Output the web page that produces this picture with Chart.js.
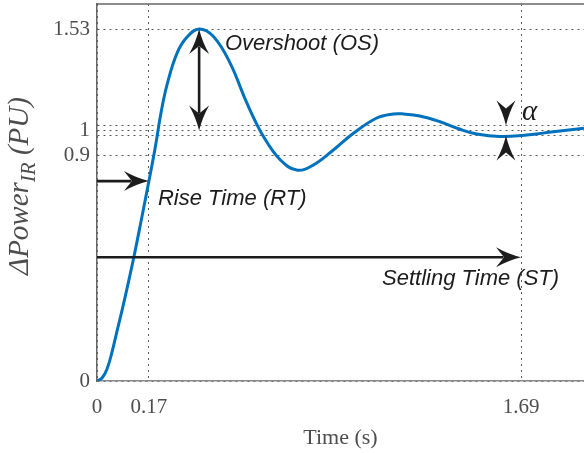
<!DOCTYPE html>
<html><head><meta charset="utf-8">
<script src="https://cdn.jsdelivr.net/npm/chart.js@4.4.0/dist/chart.umd.min.js"></script>
<style>html,body{margin:0;padding:0;background:#fff;overflow:hidden}#wrap{width:584px;height:453px}</style>
</head><body><div id="wrap"><canvas id="c" width="584" height="453"></canvas></div>
<script>
// ---- data ----
const timeS   = [0, 0.020, 0.040, 0.060, 0.080, 0.100, 0.120, 0.147, 0.175, 0.203, 0.231, 0.255, 0.279, 0.319, 0.359, 0.407, 0.465, 0.531, 0.598, 0.664, 0.731, 0.796, 0.862, 0.942, 1.022, 1.115, 1.181, 1.221, 1.287, 1.367, 1.447, 1.513, 1.606, 1.713, 1.819, 1.941];
const powerPU = [0, 0.012, 0.048, 0.116, 0.200, 0.283, 0.371, 0.495, 0.635, 0.778, 0.926, 1.070, 1.182, 1.309, 1.373, 1.405, 1.374, 1.268, 1.108, 0.975, 0.882, 0.842, 0.862, 0.922, 0.989, 1.050, 1.066, 1.066, 1.058, 1.035, 1.005, 0.986, 0.976, 0.982, 0.995, 1.009];
const xTickValues = [0, 0.207, 1.69];
const xTickLabels = ['0', '0.17', '1.69'];
const yTickValues = [0, 0.9, 1, 1.405];
const yTickLabels = ['0', '0.9', '1', '1.53'];
const bandValues  = [0.98, 1.02];
const riseTime = 0.207, settleTime = 1.69, peakTime = 0.407, peakValue = 1.405, alphaTime = 1.630;

// build y ticks (labelled + unlabelled band lines)
const yAll = yTickValues.map((v, i) => ({v, l: yTickLabels[i]}))
  .concat(bandValues.map(v => ({v, l: ''})))
  .sort((a, b) => a.v - b.v);

const serif = '"Liberation Serif", "Times New Roman", serif';
const sans = '"Liberation Sans", Arial, sans-serif';
const gridCol = '#5a5a5a';

function head(ctx, x, y, ang, L, W) {
  ctx.save(); ctx.translate(x, y); ctx.rotate(ang);
  ctx.beginPath();
  ctx.moveTo(0, 0);
  ctx.quadraticCurveTo(-L * 0.5, -W * 0.15, -L, -W / 2);
  ctx.lineTo(-L * 0.68, 0);
  ctx.lineTo(-L, W / 2);
  ctx.quadraticCurveTo(-L * 0.5, W * 0.15, 0, 0);
  ctx.closePath(); ctx.fill();
  ctx.restore();
}
function arrow(ctx, x1, y1, x2, y2, both) {
  const ang = Math.atan2(y2 - y1, x2 - x1);
  const L = 25, W = 20;
  ctx.beginPath();
  const sx = both ? x1 + Math.cos(ang) * L * 0.7 : x1, sy = both ? y1 + Math.sin(ang) * L * 0.7 : y1;
  ctx.moveTo(sx, sy);
  ctx.lineTo(x2 - Math.cos(ang) * L * 0.7, y2 - Math.sin(ang) * L * 0.7);
  ctx.stroke();
  head(ctx, x2, y2, ang, L, W);
  if (both) head(ctx, x1, y1, ang + Math.PI, L, W);
}

const annot = {
  id: 'annot',
  afterDatasetsDraw(chart) {
    const {ctx, chartArea: a, scales: {x, y}} = chart;
    ctx.save();
    // top frame line
    ctx.strokeStyle = '#666'; ctx.lineWidth = 1.5;
    ctx.beginPath(); ctx.moveTo(a.left, a.top); ctx.lineTo(a.right, a.top); ctx.stroke();

    ctx.strokeStyle = '#1c1c1c'; ctx.fillStyle = '#1c1c1c'; ctx.lineWidth = 2.6;
    // rise time arrow
    arrow(ctx, x.getPixelForValue(0), y.getPixelForValue(0.798), x.getPixelForValue(riseTime), y.getPixelForValue(0.798));
    // settling arrow
    arrow(ctx, x.getPixelForValue(0), y.getPixelForValue(0.494), x.getPixelForValue(settleTime), y.getPixelForValue(0.494));
    // overshoot double arrow
    arrow(ctx, x.getPixelForValue(peakTime), y.getPixelForValue(1.0), x.getPixelForValue(peakTime), y.getPixelForValue(peakValue), true);
    // alpha arrowheads
    const ax = x.getPixelForValue(alphaTime);
    head(ctx, ax, y.getPixelForValue(1.02), Math.PI / 2, 25, 19);
    head(ctx, ax, y.getPixelForValue(0.98), -Math.PI / 2, 25, 19);

    // texts
    ctx.font = 'italic 22px ' + sans; ctx.textBaseline = 'alphabetic'; ctx.textAlign = 'left';
    ctx.fillText('Overshoot (OS)', x.getPixelForValue(0.510), y.getPixelForValue(1.321));
    ctx.fillText('Rise Time (RT)', x.getPixelForValue(0.243), y.getPixelForValue(0.703));
    ctx.fillText('Settling Time (ST)', x.getPixelForValue(1.136), y.getPixelForValue(0.383));
    ctx.font = 'italic 29px ' + serif;
    ctx.fillText('α', x.getPixelForValue(1.694), y.getPixelForValue(1.042));

    // y axis title with subscript
    ctx.fillStyle = '#4d4d4d';
    ctx.translate(28, 186);
    ctx.rotate(-Math.PI / 2);
    const big = 'italic 29px ' + serif, small = 'italic 21px ' + serif;
    ctx.font = big; const w1 = ctx.measureText('ΔPower').width;
    ctx.font = small; const w2 = ctx.measureText('IR').width;
    ctx.font = big; const w3 = ctx.measureText(' (PU)').width;
    let px = -(w1 + w2 + w3) / 2;
    ctx.font = big; ctx.fillText('ΔPower', px, 0); px += w1;
    ctx.font = small; ctx.fillText('IR', px, 7); px += w2;
    ctx.font = big; ctx.fillText(' (PU)', px, 0);
    ctx.restore();
  }
};

new Chart(document.getElementById('c'), {
  type: 'line',
  data: {
    datasets: [{
      data: timeS.map((t, i) => ({x: t, y: powerPU[i]})),
      borderColor: '#0072BD', borderWidth: 3, pointRadius: 0,
      tension: 0.4, fill: false
    }]
  },
  options: {
    responsive: false, animation: false, devicePixelRatio: 1,
    layout: {padding: {top: 4, right: 0, left: 0, bottom: 0}},
    plugins: {legend: {display: false}, tooltip: {enabled: false}},
    scales: {
      x: {
        type: 'linear', min: 0, max: 1.941,
        afterBuildTicks: s => { s.ticks = xTickValues.map(v => ({value: v})); },
        afterFit: s => { s.height = 72; s.paddingLeft = 0; s.paddingRight = 0; },
        ticks: {autoSkip: false, maxRotation: 0, padding: 14, color: '#4d4d4d',
          font: {family: serif, size: 21},
          callback: (v, i) => xTickLabels[i]},
        grid: {color: gridCol, lineWidth: 1, drawTicks: false},
        border: {display: true, color: '#8a8a8a', width: 1.5, dash: [2, 4]},
        title: {display: true, text: 'Time (s)', color: '#4d4d4d',
          font: {family: serif, size: 22, lineHeight: 1.2}, padding: {top: 0, bottom: 2}}
      },
      y: {
        type: 'linear', min: 0, max: 1.505,
        afterBuildTicks: s => { s.ticks = yAll.map(t => ({value: t.v})); },
        afterFit: s => { s.width = 97; s.paddingTop = 0; s.paddingBottom = 0; },
        ticks: {autoSkip: false, padding: 7, color: '#4d4d4d',
          font: {family: serif, size: 21},
          callback: (v, i) => yAll[i].l},
        grid: {color: gridCol, lineWidth: 1, drawTicks: false},
        border: {display: true, color: '#666', width: 1.5, dash: [2, 4]}
      }
    }
  },
  plugins: [annot]
});
</script></body></html>
